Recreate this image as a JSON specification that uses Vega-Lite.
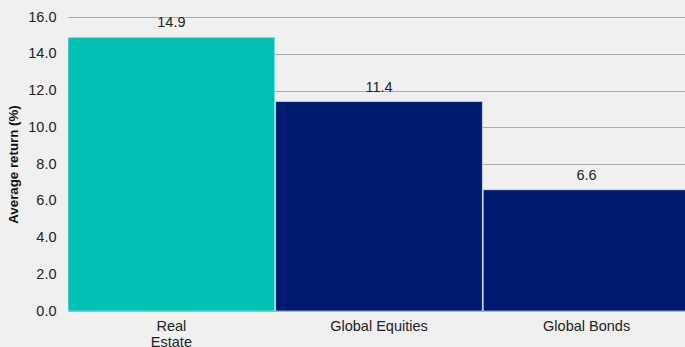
{
  "$schema": "https://vega.github.io/schema/vega-lite/v6.json",
  "autosize": "none",
  "width": 622,
  "height": 294,
  "padding": {"left": 68, "top": 17, "right": 0, "bottom": 36},
  "background": "#f0f0f0",
  "config": {
    "view": {"stroke": null},
    "font": "Liberation Sans"
  },
  "data": {
    "values": [
      {"asset": "Real Estate", "value": 14.9},
      {"asset": "Global Equities", "value": 11.4},
      {"asset": "Global Bonds", "value": 6.6}
    ]
  },
  "encoding": {
    "x": {
      "field": "asset",
      "type": "nominal",
      "sort": null,
      "scale": {"paddingInner": 0.004, "paddingOuter": 0},
      "axis": {
        "title": null,
        "labelAngle": 0,
        "labelFontSize": 14.5,
        "labelColor": "#222",
        "labelPadding": 8,
        "labelLineHeight": 16,
        "ticks": false,
        "domain": true,
        "domainColor": "#999",
        "labelExpr": "datum.value == 'Real Estate' ? ['Real', 'Estate'] : datum.value"
      }
    },
    "y": {
      "field": "value",
      "type": "quantitative",
      "scale": {"domain": [0, 16]},
      "axis": {
        "title": "Average return (%)",
        "titleFontSize": 13.3,
        "titleFontWeight": "bold",
        "titleColor": "#111",
        "titlePadding": 7,
        "values": [0, 2, 4, 6, 8, 10, 12, 14, 16],
        "labelOverlap": false,
        "format": ".1f",
        "labelFontSize": 14.5,
        "labelColor": "#222",
        "labelPadding": 12,
        "ticks": false,
        "domain": false,
        "grid": true,
        "gridColor": "#aaa",
        "gridWidth": 1
      }
    }
  },
  "layer": [
    {
      "mark": {"type": "bar", "stroke": "#e8eef5", "strokeWidth": 0.6},
      "encoding": {
        "color": {
          "field": "asset",
          "type": "nominal",
          "scale": {"domain": ["Real Estate", "Global Equities", "Global Bonds"], "range": ["#00c1b4", "#001a72", "#001a72"]},
          "legend": null
        }
      }
    },
    {
      "mark": {"type": "text", "baseline": "middle", "dy": -14, "fontSize": 14.5, "color": "#222"},
      "encoding": {
        "text": {"field": "value", "type": "quantitative", "format": ".1f"}
      }
    }
  ]
}
